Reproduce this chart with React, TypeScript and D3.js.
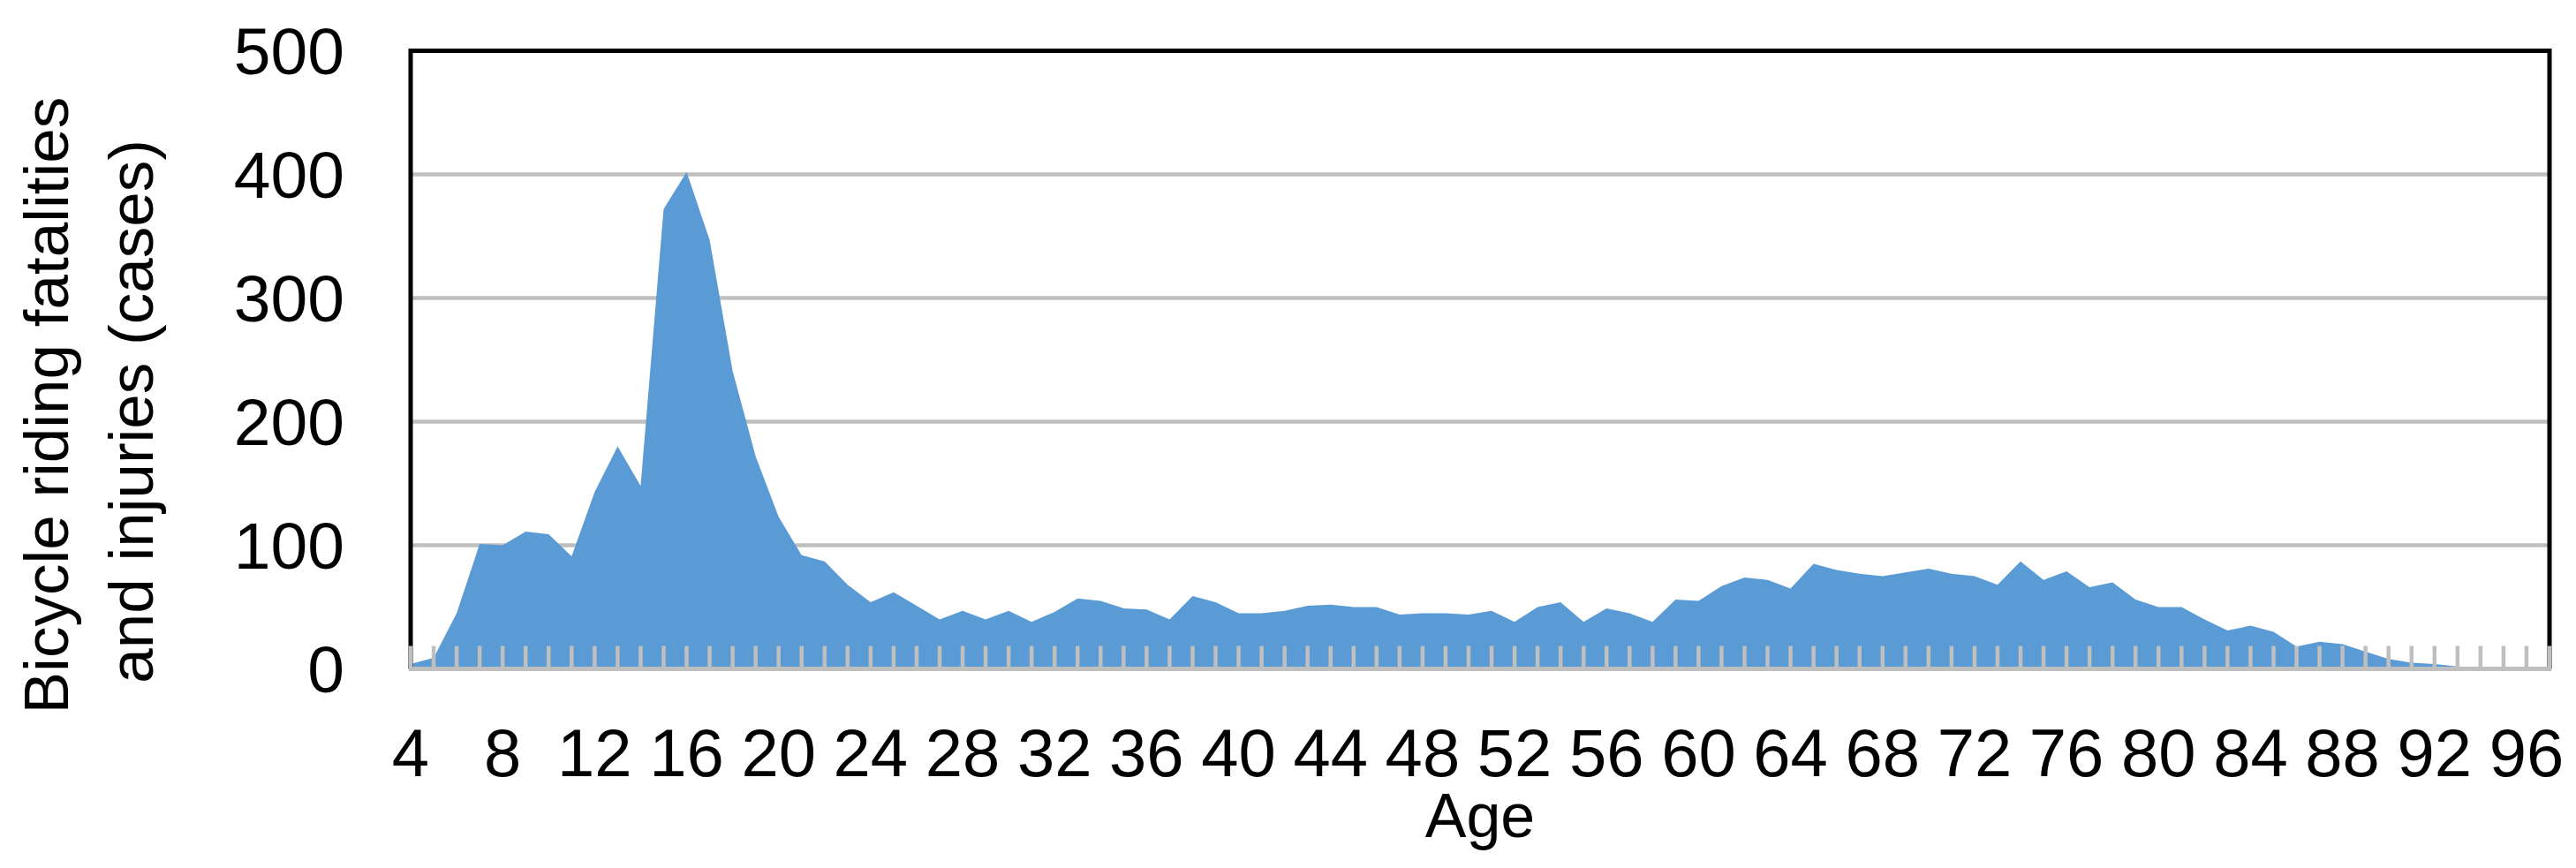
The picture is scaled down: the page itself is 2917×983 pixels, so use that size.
import * as d3 from "d3";
import { useEffect, useRef } from "react";

// ages on the category axis (4 .. 97)
const ages: number[] = d3.range(4, 98);

// fatalities and injuries per age
const cases: number[] = [
  4, 9, 45, 101, 100, 111, 109, 91, 143, 180,
  148, 372, 402, 347, 241, 172, 123, 92, 87, 68,
  54, 62, 51, 40, 47, 40, 47, 38, 46, 57,
  55, 49, 48, 40, 59, 54, 45, 45, 47, 51,
  52, 50, 50, 44, 45, 45, 44, 47, 38, 50,
  54, 38, 49, 45, 38, 56, 55, 67, 74, 72,
  65, 85, 80, 77, 75, 78, 81, 77, 75, 68,
  87, 72, 79, 66, 70, 56, 50, 50, 40, 31,
  35, 30, 18, 22, 20, 14, 8, 5, 4, 2,
  1, 1, 1, 1,
];

const yTicks: number[] = [0, 100, 200, 300, 400, 500];
const xTickLabels: number[] = [4, 8, 12, 16, 20, 24, 28, 32, 36, 40, 44, 48, 52, 56, 60, 64, 68, 72, 76, 80, 84, 88, 92, 96];

const yTitle: string[] = ["Bicycle riding fatalities", "and injuries (cases)"];
const xTitle = "Age";

const W = 2917;
const H = 983;
const margin = { top: 57.5, bottom: 225.5, left: 465, right: 30 };
const FONT = "'Liberation Sans', Arial, sans-serif";
const GRID = "#BFBFBF";

const App = () => {
  const ref = useRef<SVGSVGElement | null>(null);

  useEffect(() => {
    const svg = d3.select(ref.current);
    svg.selectAll("*").remove();

    const x = d3
      .scalePoint<number>()
      .domain(ages)
      .range([margin.left, W - margin.right]);
    const y = d3
      .scaleLinear()
      .domain([0, 500])
      .range([H - margin.bottom, margin.top]);

    const x0 = margin.left;
    const x1 = W - margin.right;
    const base = y(0);

    // gridlines
    svg.append("g")
      .selectAll("line")
      .data(yTicks.filter(t => t > 0 && t < 500))
      .enter()
      .append("line")
      .attr("x1", x0)
      .attr("x2", x1)
      .attr("y1", d => y(d))
      .attr("y2", d => y(d))
      .attr("stroke", GRID)
      .attr("stroke-width", 4.5);

    // area
    const area = d3
      .area<number>()
      .x((d, i) => x(ages[i]) as number)
      .y0(base)
      .y1(d => y(d));
    svg.append("path")
      .datum(cases)
      .attr("d", area)
      .attr("fill", "#5B9BD5");

    // plot border (top, left, right)
    svg.append("path")
      .attr("d", `M${x0},${base} V${y(500)} H${x1} V${base}`)
      .attr("fill", "none")
      .attr("stroke", "#000")
      .attr("stroke-width", 5);

    // category axis
    svg.append("line")
      .attr("x1", x0 - 2)
      .attr("x2", x1 + 2)
      .attr("y1", base)
      .attr("y2", base)
      .attr("stroke", GRID)
      .attr("stroke-width", 5);
    svg.append("g")
      .selectAll("line")
      .data(ages)
      .enter()
      .append("line")
      .attr("x1", d => x(d) as number)
      .attr("x2", d => x(d) as number)
      .attr("y1", base - 26)
      .attr("y2", base)
      .attr("stroke", GRID)
      .attr("stroke-width", 4.5);

    // y tick labels
    svg.append("g")
      .selectAll("text")
      .data(yTicks)
      .enter()
      .append("text")
      .attr("x", 390)
      .attr("y", d => y(d) + 26)
      .attr("text-anchor", "end")
      .attr("font-family", FONT)
      .attr("font-size", 75)
      .text(d => d);

    // x tick labels
    svg.append("g")
      .selectAll("text")
      .data(xTickLabels)
      .enter()
      .append("text")
      .attr("x", d => x(d) as number)
      .attr("y", 879)
      .attr("text-anchor", "middle")
      .attr("font-family", FONT)
      .attr("font-size", 76)
      .text(d => d);

    // axis titles
    svg.append("text")
      .attr("x", (x0 + x1) / 2)
      .attr("y", 948)
      .attr("text-anchor", "middle")
      .attr("font-family", FONT)
      .attr("font-size", 70)
      .text(xTitle);

    const titlePos = [[77, 459], [173, 466]];
    yTitle.forEach((t, i) => {
      svg.append("text")
        .attr("transform", `translate(${titlePos[i][0]},${titlePos[i][1]}) rotate(-90)`)
        .attr("text-anchor", "middle")
        .attr("font-family", FONT)
        .attr("font-size", 71)
        .text(t);
    });
  }, []);

  return (
    <svg
      ref={ref}
      width={W}
      height={H}
      style={{ position: "absolute", left: 0, top: 0, background: "#fff" }}
    />
  );
};

export default App;
